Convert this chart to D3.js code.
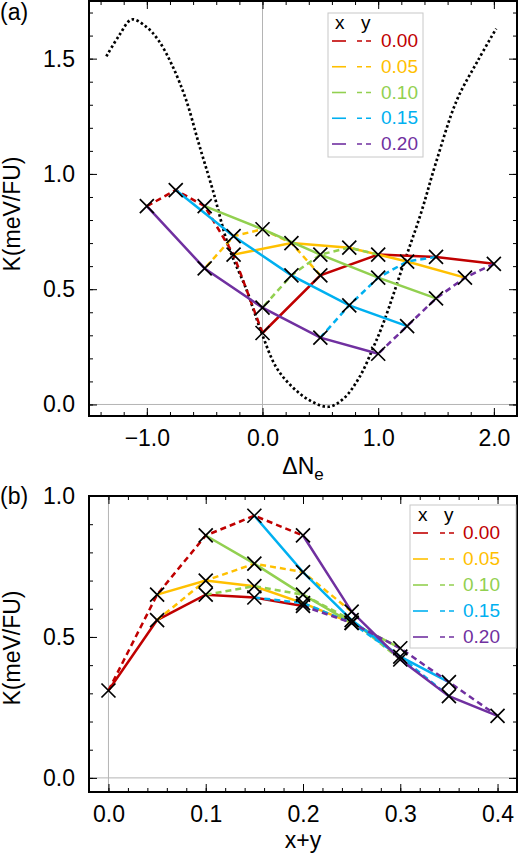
<!DOCTYPE html>
<html>
<head>
<meta charset="utf-8">
<script src="https://cdn.jsdelivr.net/npm/d3@7/dist/d3.min.js"></script>
<style>
  body { margin: 0; background: #fff; }
  svg text { font-family: "Liberation Sans", Arial, Helvetica, sans-serif; fill: #000; }
</style>
</head>
<body>
<svg id="chart" width="518" height="857"></svg>
<script>
// compositions
const compX = [0.00, 0.05, 0.10, 0.15, 0.20];
const compY = [0.00, 0.05, 0.10, 0.15, 0.20];
const seriesLabels = ["0.00", "0.05", "0.10", "0.15", "0.20"];
const seriesColors = ["#c00000", "#ffc000", "#92d050", "#00b0f0", "#7030a0"];

// K (meV/FU), rows = x, columns = y
const kGrid = [
  [0.31, 0.56, 0.65, 0.64, 0.61],
  [0.65, 0.70, 0.68, 0.62, 0.55],
  [0.86, 0.76, 0.65, 0.55, 0.46],
  [0.93, 0.73, 0.56, 0.43, 0.34],
  [0.86, 0.59, 0.42, 0.29, 0.22]
];
// delta Ne, rows = x, columns = y
const dNeGrid = [
  [0.00, 0.50, 1.00, 1.50, 2.00],
  [-0.25, 0.25, 0.75, 1.25, 1.75],
  [-0.50, 0.00, 0.50, 1.00, 1.50],
  [-0.75, -0.25, 0.25, 0.75, 1.25],
  [-1.00, -0.50, 0.00, 0.50, 1.00]
];

// dotted reference curve in panel (a)
const curveDNe = [-1.35, -1.24, -1.13, -1.01, -0.90, -0.78, -0.66, -0.55, -0.43, -0.29, -0.14, -0.05, 0.00,
  0.12, 0.26, 0.41, 0.57, 0.70, 0.84, 0.96, 1.05, 1.22, 1.37, 1.50, 1.68, 1.86, 2.02];
const curveK = [1.51, 1.60, 1.67, 1.64, 1.58, 1.47, 1.32, 1.13, 0.93, 0.68, 0.50, 0.37, 0.30,
  0.16, 0.075, 0.017, -0.01, 0.025, 0.12, 0.25, 0.36, 0.61, 0.83, 1.05, 1.32, 1.49, 1.63];

const ticksAX = [-1.0, 0.0, 1.0, 2.0];
const ticksBX = [0.0, 0.1, 0.2, 0.3, 0.4];
const ticksY = [0.0, 0.5, 1.0, 1.5];

const svg = d3.select("#chart");
const FS = 23;

function drawPanel(cfg) {
  const x = d3.scaleLinear().domain(cfg.xDomain).range([cfg.left, cfg.right]);
  const y = d3.scaleLinear().domain(cfg.yDomain).range([cfg.bottom, cfg.top]);
  const g = svg.append("g");

  // zero lines
  g.append("line").attr("x1", x(0)).attr("x2", x(0)).attr("y1", cfg.top).attr("y2", cfg.bottom)
    .attr("stroke", "#b4b4b4").attr("stroke-width", 1);
  g.append("line").attr("x1", cfg.left).attr("x2", cfg.right).attr("y1", y(0)).attr("y2", y(0))
    .attr("stroke", "#b4b4b4").attr("stroke-width", 1);

  // minor ticks on all four sides
  const xMinor = d3.range(cfg.xDomain[0], cfg.xDomain[1] + 1e-9, cfg.xMinorStep)
    .map(v => Math.round(v / cfg.xMinorStep) * cfg.xMinorStep)
    .filter(v => v > cfg.xDomain[0] + 1e-9 && v < cfg.xDomain[1] - 1e-9);
  const yMinor = d3.range(0, cfg.yDomain[1] + 1e-9, 0.1).filter(v => v < cfg.yDomain[1] - 1e-9);

  const axes = [
    [d3.axisBottom(x), cfg.bottom, "x"], [d3.axisTop(x), cfg.top, "x"],
    [d3.axisLeft(y), cfg.left, "y"], [d3.axisRight(y), cfg.right, "y"]
  ];
  axes.forEach(([ax, pos, dim]) => {
    const minor = dim === "x" ? xMinor : yMinor;
    const t = dim === "x" ? "translate(0," + pos + ")" : "translate(" + pos + ",0)";
    g.append("g").attr("transform", t)
      .call(ax.tickValues(minor).tickSize(-4).tickFormat(""))
      .call(s => s.select(".domain").remove())
      .selectAll("line").attr("stroke", "#000").attr("stroke-width", 1);
  });

  // labelled major ticks
  const bx = g.append("g").attr("transform", "translate(0," + cfg.bottom + ")")
    .call(d3.axisBottom(x).tickValues(cfg.xTicks).tickSize(-8).tickPadding(14).tickFormat(cfg.xFormat));
  const tx = g.append("g").attr("transform", "translate(0," + cfg.top + ")")
    .call(d3.axisTop(x).tickValues(cfg.xTicks).tickSize(-8).tickFormat(""));
  const ly = g.append("g").attr("transform", "translate(" + cfg.left + ",0)")
    .call(d3.axisLeft(y).tickValues(cfg.yTicks).tickSize(-8).tickPadding(14).tickFormat(d3.format(".1f")));
  const ry = g.append("g").attr("transform", "translate(" + cfg.right + ",0)")
    .call(d3.axisRight(y).tickValues(cfg.yTicks).tickSize(-8).tickFormat(""));
  [bx, tx, ly, ry].forEach(s => {
    s.select(".domain").remove();
    s.selectAll("line").attr("stroke", "#000").attr("stroke-width", 1);
    s.selectAll("text").attr("font-size", FS).attr("font-family", null).attr("fill", "#000");
  });

  // frame
  g.append("rect").attr("x", cfg.left).attr("y", cfg.top)
    .attr("width", cfg.right - cfg.left).attr("height", cfg.bottom - cfg.top)
    .attr("fill", "none").attr("stroke", "#000").attr("stroke-width", 2);

  return { g, x, y };
}

function drawSeries(p, xOf) {
  const line = d3.line().x(d => p.x(d[0])).y(d => p.y(d[1]));
  compX.forEach((cx, i) => {
    // solid: constant x, varying y
    const solid = compY.map((cy, j) => [xOf(i, j), kGrid[i][j]]);
    p.g.append("path").attr("d", line(solid)).attr("fill", "none")
      .attr("stroke", seriesColors[i]).attr("stroke-width", 2.5);
    // dashed: constant y, varying x
    const dashed = compX.map((c2, k) => [xOf(k, i), kGrid[k][i]]);
    p.g.append("path").attr("d", line(dashed)).attr("fill", "none")
      .attr("stroke", seriesColors[i]).attr("stroke-width", 2.5).attr("stroke-dasharray", "6,4");
  });
  const pts = [];
  compX.forEach((cx, i) => compY.forEach((cy, j) => pts.push([xOf(i, j), kGrid[i][j]])));
  p.g.selectAll(".mk").data(pts).enter().append("path")
    .attr("transform", d => "translate(" + p.x(d[0]) + "," + p.y(d[1]) + ")")
    .attr("d", "M-7,-7L7,7M-7,7L7,-7")
    .attr("stroke", "#000").attr("stroke-width", 1.7).attr("fill", "none");
}

function drawLegend(g, lx, ly, lw, lh, rowY0, rowStep, headerY, solidX, dashX, textX, hx, hy) {
  const L = g.append("g");
  L.append("rect").attr("x", lx).attr("y", ly).attr("width", lw).attr("height", lh)
    .attr("fill", "#fff").attr("stroke", "#c8c8c8").attr("stroke-width", 1);
  L.append("text").attr("x", hx).attr("y", headerY).attr("font-size", 19).text("x");
  L.append("text").attr("x", hy).attr("y", headerY).attr("font-size", 19).text("y");
  seriesLabels.forEach((lab, i) => {
    const yy = rowY0 + i * rowStep;
    L.append("line").attr("x1", solidX[0]).attr("x2", solidX[1]).attr("y1", yy - 6).attr("y2", yy - 6)
      .attr("stroke", seriesColors[i]).attr("stroke-width", 1.6);
    L.append("line").attr("x1", dashX[0]).attr("x2", dashX[1]).attr("y1", yy - 6).attr("y2", yy - 6)
      .attr("stroke", seriesColors[i]).attr("stroke-width", 1.6).attr("stroke-dasharray", "5,4");
    L.append("text").attr("x", textX).attr("y", yy).attr("text-anchor", "end")
      .attr("font-size", 19).style("fill", seriesColors[i]).text(lab);
  });
}

// ---- panel (a)
const pa = drawPanel({
  left: 89, right: 517, top: 1, bottom: 416,
  xDomain: [-1.5, 2.2], yDomain: [-0.05, 1.75],
  xTicks: ticksAX, yTicks: ticksY, xMinorStep: 0.2, xFormat: d3.format(".1f")
});
pa.g.append("path")
  .attr("d", d3.line().curve(d3.curveCatmullRom.alpha(0.5))
    .x((d, i) => pa.x(curveDNe[i])).y((d, i) => pa.y(curveK[i]))(curveDNe))
  .attr("fill", "none").attr("stroke", "#000").attr("stroke-width", 2.7).attr("stroke-dasharray", "2.5,2.5");
drawSeries(pa, (i, j) => dNeGrid[i][j]);
drawLegend(pa.g, 328, 13, 95, 144, 47, 25.75, 29, [332, 346], [357, 372], 418, 335, 361);

// ---- panel (b)
const pb = drawPanel({
  left: 89, right: 517, top: 496, bottom: 792,
  xDomain: [-0.02, 0.42], yDomain: [-0.05, 1.0],
  xTicks: ticksBX, yTicks: ticksY.filter(v => v <= 1.0), xMinorStep: 0.02, xFormat: d3.format(".1f")
});
drawSeries(pb, (i, j) => compX[i] + compY[j]);
drawLegend(pb.g, 410, 505, 106, 143, 539, 26, 521, [413, 428], [440, 454], 500, 418, 444);

// ---- labels
svg.append("text").attr("x", 0).attr("y", 20).attr("font-size", FS).text("(a)");
svg.append("text").attr("x", 0).attr("y", 504).attr("font-size", FS).text("(b)");

svg.append("text").attr("transform", "translate(20,214) rotate(-90)")
  .attr("text-anchor", "middle").attr("font-size", FS).text("K(meV/FU)");
svg.append("text").attr("transform", "translate(20,648) rotate(-90)")
  .attr("text-anchor", "middle").attr("font-size", FS).text("K(meV/FU)");

const dn = svg.append("text").attr("x", 303).attr("y", 474).attr("text-anchor", "middle").attr("font-size", FS);
dn.append("tspan").text("ΔN");
dn.append("tspan").attr("font-size", 17).attr("dy", 6).text("e");

svg.append("text").attr("x", 303).attr("y", 848).attr("text-anchor", "middle").attr("font-size", FS).text("x+y");
</script>
</body>
</html>
